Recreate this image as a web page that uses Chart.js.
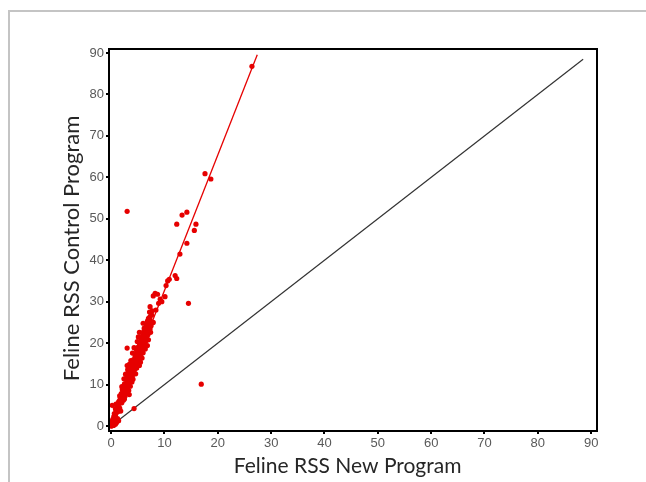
<!DOCTYPE html>
<html>
<head>
<meta charset="utf-8">
<title>Feline RSS</title>
<script src="https://cdn.jsdelivr.net/npm/chart.js@4.4.1/dist/chart.umd.min.js"></script>
<style>
  html, body { margin: 0; padding: 0; background: #fff; }
  #wrap { position: relative; width: 646px; height: 482px; overflow: hidden; }
  #sheet { position: absolute; left: 8px; top: 10px; width: 700px; height: 600px;
           border-left: 2px solid #c4c4c4; border-top: 2px solid #c4c4c4; }
  #chart { position: absolute; left: 0; top: 0; }
</style>
</head>
<body>
<div id="wrap">
  <div id="sheet"></div>
  <canvas id="chart" width="646" height="482"></canvas>
</div>
<script>
// Values (x = new program, y = control program)
const newProgram = [
  26.4, 17.6, 18.7, 3.0, 13.3, 14.2, 12.3, 15.9, 15.6, 14.2, 12.9,
  12.0, 12.3, 10.9, 10.6, 10.3, 8.25, 8.7, 7.9, 10.1, 9.2, 9.5, 8.9, 7.3, 8.4, 7.3,
  14.5, 3.0, 16.9, 0.2, 4.3,
  0, 0.1, 0.2, 0.3, 0.1, 0.4, 0.5, 0.3, 0.6, 0.2, 0.7, 0.05, 0.15, 0.45, 0.6,
  1.0, 1.4, 0.8, 1.2,
  0.5, 0.8, 0.6, 1.0, 0.9, 1.2, 1.4, 1.1, 0.7, 1.3, 1.6, 0.8,
  1.3, 1.6, 1.5, 1.9, 1.7, 2.1, 2.3, 1.9, 2.6, 1.4, 2.0, 2.5,
  2.2, 2.6, 2.4, 2.9, 2.7, 3.2, 3.0, 3.5, 2.5, 3.6, 2.1, 3.3,
  2.8, 3.2, 3.6, 3.0, 3.5, 4.0, 3.3, 3.8, 4.3, 3.1, 3.6, 4.5, 2.7, 4.1,
  3.6, 4.0, 4.5, 3.9, 4.4, 4.9, 4.2, 4.7, 5.2, 3.7, 4.5, 5.0, 5.5, 4.1,
  4.6, 5.1, 5.6, 4.8, 5.3, 5.9, 5.0, 5.6, 6.1, 5.3, 5.8, 6.3, 4.7, 6.0,
  5.5, 6.0, 6.5, 5.6, 6.2, 6.7, 5.9, 6.4, 6.9, 6.1, 6.6, 5.4,
  6.4, 6.9, 7.3, 6.6, 7.1, 7.5, 6.8, 7.3, 7.0, 7.6, 7.2, 7.7, 6.7,
  1.8, 2.8, 3.9, 4.6, 2.4, 3.4, 5.3, 4.0, 6.4, 4.9, 7.0, 5.3, 7.4, 6.0,
  7.9, 2.0, 1.6, 3.0, 5.8, 4.3, 6.8, 5.1, 2.3, 0.9, 1.8, 4.8, 6.2, 3.4
];
const controlProgram = [
  86.8, 60.9, 59.6, 51.8, 50.9, 51.6, 48.7, 48.7, 47.2, 44.1, 41.5,
  36.3, 35.6, 35.4, 35.0, 33.9, 32.0, 31.8, 31.4, 31.2, 30.6, 30.0, 29.6, 28.8, 28.0, 26.4,
  29.6, 18.8, 10.1, 5.0, 4.2,
  0, 0.2, 0.5, 0.3, 0.8, 1.0, 1.4, 1.6, 1.9, 1.2, 1.1, 0.4, 0.05, 0.15, 0.6,
  0.8, 1.3, 0.4, 1.8,
  2.3, 2.6, 3.0, 3.2, 3.8, 4.0, 4.6, 4.9, 2.1, 3.5, 4.3, 4.2,
  5.2, 5.5, 6.0, 6.2, 6.8, 7.0, 7.5, 7.8, 7.2, 5.8, 5.6, 6.5,
  8.2, 8.5, 9.0, 9.2, 9.8, 10.0, 10.5, 10.8, 10.2, 9.6, 8.8, 8.6,
  11.2, 11.5, 11.6, 12.0, 12.4, 12.2, 12.9, 13.2, 13.0, 13.6, 13.9, 13.8, 12.5, 11.3,
  14.3, 14.6, 14.5, 15.2, 15.5, 15.1, 16.0, 16.3, 16.1, 15.8, 16.8, 16.9, 15.4, 14.1,
  17.2, 17.5, 17.3, 18.0, 18.4, 18.2, 19.0, 19.3, 19.0, 19.8, 20.0, 19.6, 18.6, 17.7,
  20.4, 20.7, 20.5, 21.2, 21.4, 21.1, 21.9, 22.3, 22.0, 22.8, 23.0, 20.3,
  23.5, 23.8, 23.4, 24.4, 24.7, 24.2, 25.3, 25.6, 26.0, 26.8, 27.5, 27.8, 24.0,
  6.6, 8.0, 10.6, 12.6, 11.4, 14.9, 14.6, 17.6, 18.6, 20.4, 20.8, 22.6, 22.6, 24.8,
  25.0, 9.5, 7.3, 14.6, 16.4, 18.9, 19.4, 21.5, 6.2, 5.3, 3.6, 14.0, 23.6, 7.6
];

// Fitted line (red) and line of equality (black)
const fitX = [0, 27.4];
const fitY = [0, 89.6];
const equalityX = [0, 88.5];
const equalityY = [0, 88.5];

// Tick labels
const xTicks = [0, 10, 20, 30, 40, 50, 60, 70, 80, 90];
const yTicks = [0, 10, 20, 30, 40, 50, 60, 70, 80, 90];

const RED = '#e60000';
const toPoints = (xs, ys) => xs.map((x, i) => ({ x, y: ys[i] }));

// Box round the plot area (top and right sides too)
const frameBox = {
  id: 'frameBox',
  afterDraw(chart) {
    const { ctx, chartArea: a } = chart;
    ctx.save();
    ctx.strokeStyle = '#000';
    ctx.lineWidth = 2;
    ctx.strokeRect(a.left, a.top, a.right - a.left, a.bottom - a.top);
    ctx.restore();
  }
};

const tickFont = { family: '"Liberation Sans", Arial, sans-serif', size: 13 };

new Chart(document.getElementById('chart'), {
  type: 'scatter',
  data: {
    datasets: [
      {
        label: 'Fit',
        data: toPoints(fitX, fitY),
        showLine: true,
        borderColor: RED,
        borderWidth: 1.3,
        pointRadius: 0,
        order: 1
      },
      {
        label: 'Cats',
        data: toPoints(newProgram, controlProgram),
        backgroundColor: RED,
        borderWidth: 0,
        pointRadius: 2.6,
        clip: 6,
        order: 2
      },
      {
        label: 'Equality',
        data: toPoints(equalityX, equalityY),
        showLine: true,
        borderColor: '#333',
        borderWidth: 1.2,
        pointRadius: 0,
        order: 3
      }
    ]
  },
  options: {
    responsive: false,
    animation: false,
    events: [],
    layout: { padding: { left: 0, top: 49, right: 49, bottom: 0 } },
    plugins: { legend: { display: false }, tooltip: { enabled: false } },
    scales: {
      x: {
        type: 'linear',
        min: -0.4,
        max: 91.1,
        afterBuildTicks: (s) => { s.ticks = xTicks.map(v => ({ value: v })); },
        afterFit: (s) => { s.height = 51; },
        grid: { drawOnChartArea: false, tickLength: 3, color: '#000', lineWidth: 2 },
        border: { display: true, color: '#000', width: 2 },
        ticks: { color: '#595959', font: tickFont, padding: 2, maxRotation: 0 },
        title: {
          display: true,
          // trailing spaces nudge the centred title a little left
          text: 'Feline RSS New Program  ',
          color: '#262626',
          font: { family: 'Lato, "Open Sans", sans-serif', size: 21 },
          padding: { top: 0, bottom: 3 }
        }
      },
      y: {
        type: 'linear',
        min: -1.2,
        max: 90.97,
        afterBuildTicks: (s) => { s.ticks = yTicks.map(v => ({ value: v })); },
        afterFit: (s) => { s.width = 109; },
        grid: { drawOnChartArea: false, tickLength: 3, color: '#000', lineWidth: 2 },
        border: { display: true, color: '#000', width: 2 },
        ticks: { color: '#595959', font: tickFont, padding: 2 },
        title: {
          display: true,
          // trailing spaces nudge the rotated title a little down
          text: 'Feline RSS Control Program   ',
          color: '#262626',
          font: { family: 'Lato, "Open Sans", sans-serif', size: 22 },
          padding: { top: 59, bottom: 0 }
        }
      }
    }
  },
  plugins: [frameBox]
});
</script>
</body>
</html>
